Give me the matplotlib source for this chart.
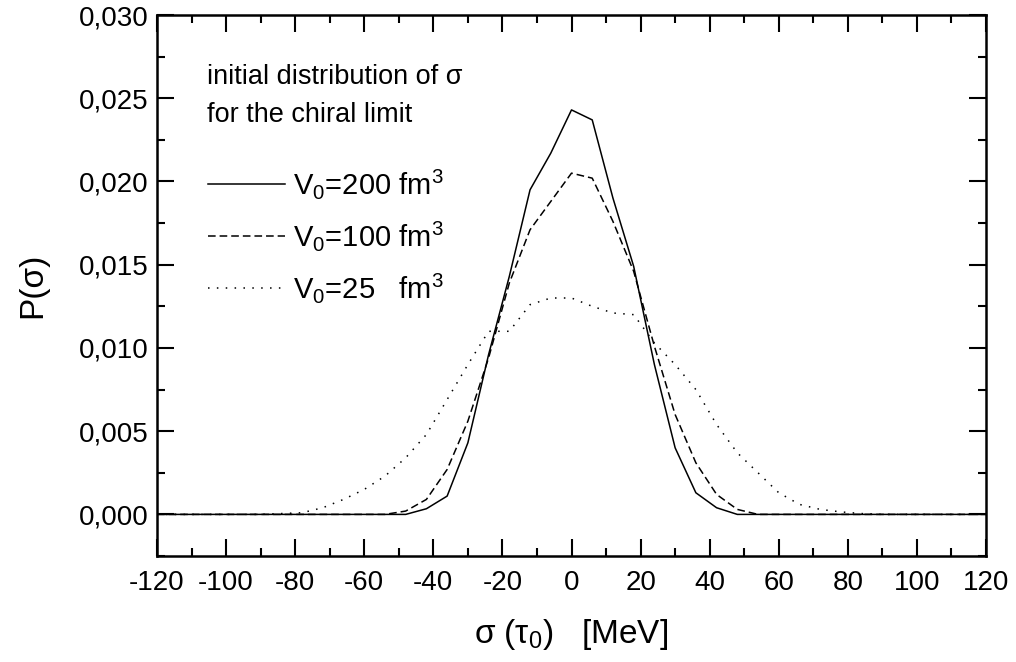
import numpy as np
import matplotlib
matplotlib.use("Agg")
import matplotlib.pyplot as plt
from matplotlib.ticker import MultipleLocator, FuncFormatter

plt.rcParams['font.family'] = ['Liberation Sans', 'DejaVu Sans']
plt.rcParams['mathtext.fontset'] = 'custom'
plt.rcParams['mathtext.rm'] = 'Liberation Sans'
plt.rcParams['mathtext.it'] = 'Liberation Sans'
plt.rcParams['axes.unicode_minus'] = False

# sigma grid [MeV]
sigma = [-120, -114, -108, -102, -96, -90, -84, -78, -72, -66, -60, -54, -48, -42, -36, -30,
         -24, -18, -12, -6, 0, 6, 12, 18, 24, 30, 36, 42, 48, 54, 60, 66, 72, 78, 84, 90,
         96, 102, 108, 114, 120]

# V0 = 200 fm^3
p_200 = [0, 0, 0, 0, 0, 0, 0, 0, 0, 0, 0, 0, 0.0000, 0.00034, 0.0011, 0.0043,
         0.0096, 0.0143, 0.0195, 0.0217, 0.0243, 0.0237, 0.0190, 0.0149, 0.0090, 0.0040,
         0.0013, 0.0004, 0.0000, 0, 0, 0, 0, 0, 0, 0,
         0, 0, 0, 0, 0]

# V0 = 100 fm^3
p_100 = [0, 0, 0, 0, 0, 0, 0, 0, 0, 0, 0, 0.0000, 0.0002, 0.0009, 0.0027, 0.0056,
         0.0094, 0.0139, 0.0171, 0.0188, 0.0205, 0.0202, 0.0176, 0.0146, 0.0101, 0.0060,
         0.0031, 0.0012, 0.0003, 0.0000, 0, 0, 0, 0, 0, 0,
         0, 0, 0, 0, 0]

# V0 = 25 fm^3
p_25 = [0, 0, 0, 0, 0, 0.0000, 0.00005, 0.0001, 0.0004, 0.0009, 0.0015, 0.0023, 0.0034,
        0.0048, 0.0069, 0.0090, 0.0110, 0.0110, 0.0126, 0.0130, 0.0130, 0.0125, 0.0121,
        0.0120, 0.0103, 0.0090, 0.0075, 0.0054, 0.0037, 0.0025, 0.0013, 0.0006, 0.0003,
        0.00015, 0.00005, 0.0000, 0, 0, 0, 0, 0]

labels = [r'V$_0$=200 fm$^3$', r'V$_0$=100 fm$^3$', r'V$_0$=25   fm$^3$']

fig = plt.figure(figsize=(10.16, 6.62), dpi=100)
ax = fig.add_axes([0.1545, 0.1601, 0.816, 0.8172])

ax.plot(sigma, p_200, color='black', lw=1.1, ls='-', label=labels[0])
ax.plot(sigma, p_100, color='black', lw=1.1, ls=(0, (5, 2.6)), label=labels[1])
ax.plot(sigma, p_25, color='black', lw=1.1, ls=(0, (1, 4.8)), label=labels[2])

ax.set_xlim(-120, 120)
ax.set_ylim(-0.0025, 0.030)
ax.xaxis.set_major_locator(MultipleLocator(20))
ax.xaxis.set_minor_locator(MultipleLocator(10))
ax.yaxis.set_major_locator(MultipleLocator(0.005))
ax.yaxis.set_minor_locator(MultipleLocator(0.0025))
ax.yaxis.set_major_formatter(FuncFormatter(lambda v, p: f"{v:.3f}".replace('.', ',')))

ax.tick_params(which='both', direction='in', top=True, right=True, width=1.5, labelsize=20)
ax.tick_params(which='major', length=12)
ax.tick_params(which='minor', length=6)
ax.tick_params(axis='x', pad=10)
ax.tick_params(axis='y', pad=6)
for s in ax.spines.values():
    s.set_linewidth(1.8)

ax.set_xlabel(r'σ (τ$_0$)   [MeV]', fontsize=24, labelpad=15)
ax.set_ylabel('P(σ)', fontsize=24, labelpad=22)

fig.text(0.204, 0.873, 'initial distribution of σ', fontsize=19.5)
fig.text(0.204, 0.816, 'for the chiral limit', fontsize=19.5)

leg = ax.legend(loc='upper left', bbox_to_anchor=(0.0615, 0.719), frameon=False, fontsize=21,
                handlelength=2.65, handletextpad=0.27, labelspacing=0.62, borderaxespad=0,
                borderpad=0)

fig.savefig('out.png', dpi=100)
